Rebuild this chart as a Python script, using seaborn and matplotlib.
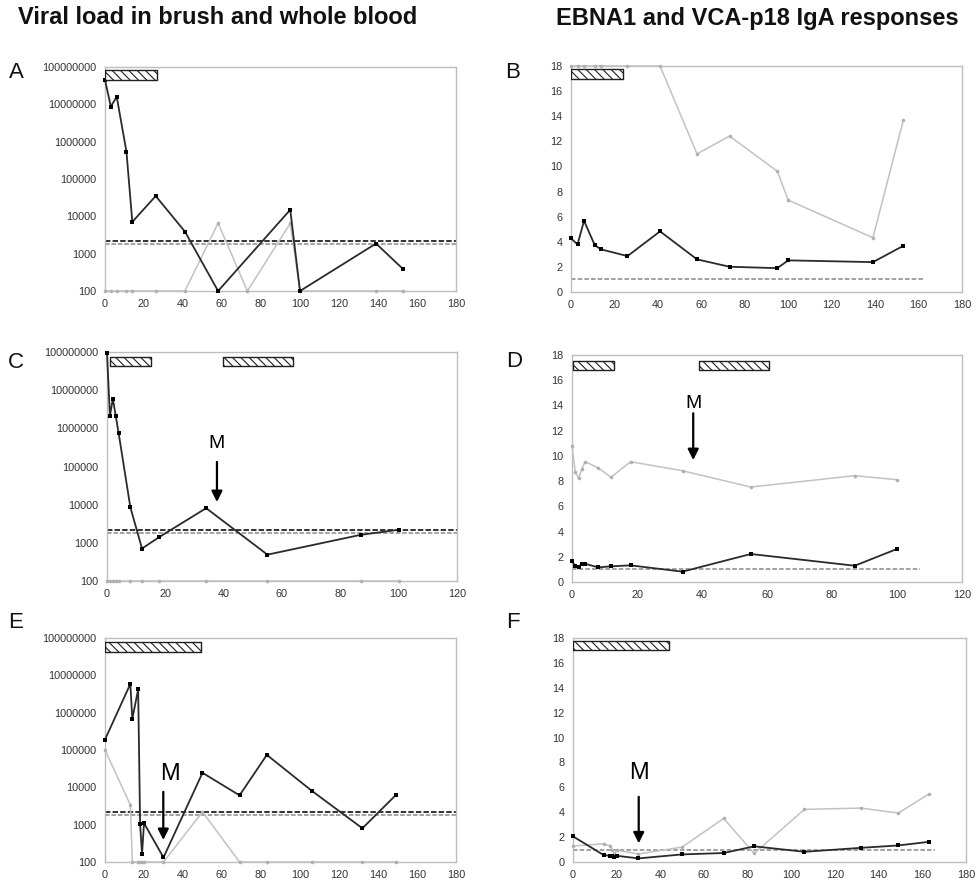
import matplotlib
matplotlib.use("Agg")
import matplotlib.pyplot as plt
import seaborn as sns

# ---------------- data ----------------
# Patient 1 (panels A, B)
days_ab = [0, 3, 6, 11, 14, 26, 41, 58, 73, 95, 100, 139, 153]
brush_a_days = [0, 3, 6, 11, 14, 26, 41, 58, 95, 100, 139, 153]
brush_a = [4.5e7, 8.7e6, 1.6e7, 5.4e5, 7100, 35000, 3900, 100, 15000, 100, 1870, 380]
blood_a = [100, 100, 100, 100, 100, 100, 100, 6600, 100, 6500, 100, 100, 100]
ebna1_b = [4.27, 3.79, 5.67, 3.71, 3.39, 2.86, 4.83, 2.60, 2.01, 1.90, 2.52, 2.38, 3.68]
vca_b = [18, 18, 18, 18, 18, 18, 18, 11.0, 12.42, 9.61, 7.32, 4.32, 13.7]

# Patient 2 (panels C, D)
days_cd = [0, 1, 2, 3, 4, 8, 12, 18, 34, 55, 87, 100]
brush_c = [9.3e7, 2.1e6, 6.0e6, 2.1e6, 7.4e5, 8600, 710, 1430, 8100, 490, 1620, 2200]
blood_c = [100, 100, 100, 100, 100, 100, 100, 100, 100, 100, 100, 100]
ebna1_d = [1.64, 1.29, 1.16, 1.45, 1.45, 1.16, 1.24, 1.32, 0.82, 2.22, 1.29, 2.62]
vca_d = [10.81, 8.75, 8.22, 8.93, 9.54, 9.06, 8.30, 9.54, 8.82, 7.53, 8.43, 8.11]

# Patient 3 (panels E, F)
days_e = [0, 13, 14, 17, 18, 19, 20, 30, 50, 69, 83, 106, 132, 149]
brush_e = [1.9e5, 5.9e6, 6.8e5, 4.2e6, 1020, 165, 1100, 132, 24500, 6100, 74000, 8100, 800, 6100]
blood_e = [1e5, 3400, 100, 100, 100, 100, 100, 100, 2200, 100, 100, 100, 100, 100]
days_f = [0, 14, 17, 18, 19, 20, 30, 50, 69, 83, 106, 132, 149, 163]
ebna1_f = [2.06, 0.56, 0.50, 0.50, 0.37, 0.50, 0.29, 0.61, 0.72, 1.26, 0.82, 1.14, 1.33, 1.62]
vca_f = [1.28, 1.47, 1.30, 0.98, 0.65, 0.95, 0.64, 1.20, 3.50, 0.69, 4.23, 4.33, 3.93, 5.46]

# Treatment periods (days)
treat_ab = [(0, 26.7)]
treat_b = [(0, 24)]
treat_c = [(1, 15.1), (39.8, 63.8)]
treat_d = [(0.3, 12.9), (39, 60.6)]
treat_e = [(0, 49)]
treat_f = [(0, 44)]

# Cut-off levels
pcr_cutoffs = [2200, 1800]
iga_cutoff = 1.0

load_ticks = [100, 1000, 10000, 100000, 1000000, 10000000, 100000000]
load_labels = ["100", "1000", "10000", "100000", "1000000", "10000000", "100000000"]
iga_ticks = [0, 2, 4, 6, 8, 10, 12, 14, 16, 18]

# ---------------- style ----------------
sns.set_style("white")
plt.rcParams["font.family"] = ["Liberation Sans", "DejaVu Sans"]
plt.rcParams["hatch.linewidth"] = 0.8

DARK = "#2a2a2a"
LIGHT = "#c2c2c2"
FRAME = "#bdbdbd"

W, H = 978, 886
fig = plt.figure(figsize=(W / 100, H / 100), dpi=100)


def px_axes(left, top, right, bottom):
    return fig.add_axes([left / W, 1 - bottom / H, (right - left) / W, (bottom - top) / H])


def frame(ax, xmax):
    for s in ax.spines.values():
        s.set_color(FRAME)
        s.set_linewidth(1.0)
    ax.set_xlim(0, xmax)
    ax.set_xticks(list(range(0, xmax + 1, 20)))
    ax.tick_params(axis="both", which="major", length=3, width=0.8, color=FRAME,
                   labelsize=7.8, labelcolor="#333333", pad=3)
    ax.tick_params(axis="both", which="minor", length=0)
    ax.set_xlabel("")
    ax.set_ylabel("")


def series(ax, x, y, dark):
    if dark:
        sns.lineplot(x=x, y=y, ax=ax, estimator=None, sort=False, color=DARK,
                     linewidth=1.3, marker="s", markersize=3.4, markeredgewidth=0,
                     markerfacecolor="black", clip_on=False, zorder=4)
    else:
        sns.lineplot(x=x, y=y, ax=ax, estimator=None, sort=False, color=LIGHT,
                     linewidth=1.1, marker="o", markersize=2.6, markeredgewidth=0,
                     markerfacecolor="#b0b0b0", clip_on=False, zorder=3)


def treatment(ax, periods, ylo, yhi):
    for x0, x1 in periods:
        ax.fill_between([x0, x1], [ylo, ylo], [yhi, yhi], facecolor="white",
                        edgecolor="#202020", hatch="\\\\\\\\", linewidth=1.0, zorder=5)


def load_panel(ax, xmax, days_dark, dark, days_light, light, periods, bar_lo, bar_hi):
    ax.set_yscale("log")
    ax.set_ylim(100, 1e8)
    ax.set_yticks(load_ticks)
    ax.set_yticklabels(load_labels)
    ax.minorticks_off()
    ax.axhline(pcr_cutoffs[0], color="#222222", linestyle=(0, (3, 1.2)), linewidth=1.3, zorder=2)
    ax.axhline(pcr_cutoffs[1], color="#8a8a8a", linestyle=(0, (3, 1.2)), linewidth=1.1, zorder=2)
    series(ax, days_light, light, dark=False)
    series(ax, days_dark, dark, dark=True)
    treatment(ax, periods, bar_lo, bar_hi)
    frame(ax, xmax)


def iga_panel(ax, xmax, days, ebna, vca, cut_end, periods, bar_lo, bar_hi):
    ax.set_ylim(0, 18)
    ax.set_yticks(iga_ticks)
    ax.plot([0, cut_end], [iga_cutoff, iga_cutoff], color="#9a9a9a",
            linestyle=(0, (2.5, 1.2)), linewidth=1.3, zorder=2)
    series(ax, days, vca, dark=False)
    series(ax, days, ebna, dark=True)
    treatment(ax, periods, bar_lo, bar_hi)
    frame(ax, xmax)


def m_marker(ax, x_text, y_text, x_arrow, y_tail, y_tip, size):
    ax.text(x_text, y_text, "M", ha="center", va="center", fontsize=size, color="black", zorder=6)
    ax.annotate("", xy=(x_arrow, y_tip), xytext=(x_arrow, y_tail),
                arrowprops=dict(arrowstyle="-|>", color="black", lw=1.6,
                                mutation_scale=16, shrinkA=0, shrinkB=0), zorder=6)


# ---------------- panels ----------------
axA = px_axes(105, 67, 456, 291)
load_panel(axA, 180, brush_a_days, brush_a, days_ab, blood_a, treat_ab, 4.5e7, 8.3e7)

axB = px_axes(571, 66, 962, 292)
iga_panel(axB, 180, days_ab, ebna1_b, vca_b, 162, treat_b, 16.96, 17.76)

axC = px_axes(107, 352, 457, 581)
load_panel(axC, 120, days_cd, brush_c, days_cd, blood_c, treat_c, 4.3e7, 7.4e7)
m_marker(axC, 37.7, 10 ** 5.59, 37.7, 10 ** 5.12, 10 ** 4.07, 14)

axD = px_axes(572, 355, 962, 582)
iga_panel(axD, 120, days_cd, ebna1_d, vca_d, 107, treat_d, 16.8, 17.52)
m_marker(axD, 37.3, 14.17, 37.3, 13.38, 9.67, 14)

axE = px_axes(105, 638, 456, 862)
load_panel(axE, 180, days_e, brush_e, days_e, blood_e, treat_e, 4.2e7, 7.8e7)
m_marker(axE, 33.3, 10 ** 4.36, 29.9, 10 ** 3.88, 10 ** 2.59, 17)

axF = px_axes(573, 638, 966, 862)
iga_panel(axF, 180, days_f, ebna1_f, vca_f, 166, treat_f, 17.04, 17.76)
m_marker(axF, 30.2, 7.12, 30.1, 5.24, 1.5, 17)

# ---------------- titles and panel letters ----------------
fig.text(217.5 / W, 1 - 18 / H, "Viral load in brush and whole blood", ha="center", va="center",
         fontsize=17, fontweight="bold", color="#111111")
fig.text(757 / W, 1 - 18 / H, "EBNA1 and VCA-p18 IgA responses", ha="center", va="center",
         fontsize=17, fontweight="bold", color="#111111")

for letter, (lx, ly) in {"A": (16, 73), "B": (513, 73), "C": (16, 363),
                         "D": (514, 362), "E": (16, 622), "F": (513, 622)}.items():
    fig.text(lx / W, 1 - ly / H, letter, ha="center", va="center", fontsize=16, color="#111111")

fig.savefig("out.png", dpi=100)
